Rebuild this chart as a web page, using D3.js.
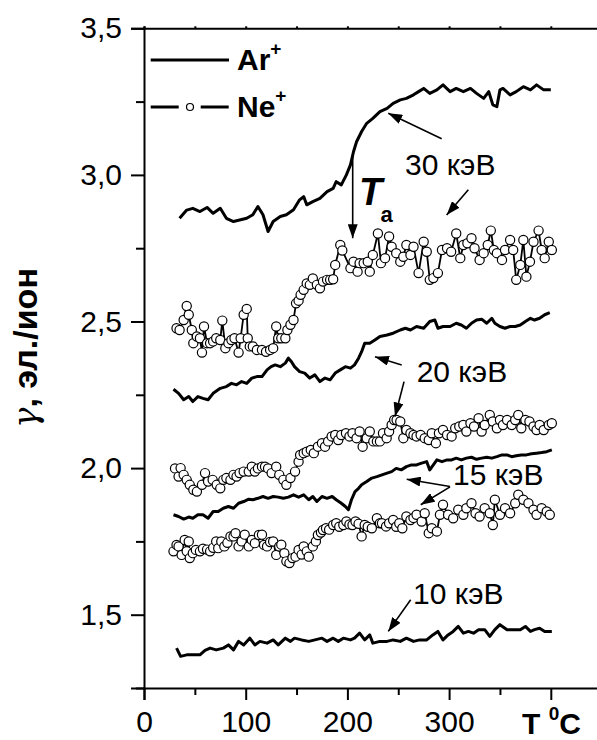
<!DOCTYPE html>
<html>
<head>
<meta charset="utf-8">
<script src="https://cdn.jsdelivr.net/npm/d3@7"></script>
<style>
  body { margin: 0; background: #fff; }
  text { font-family: "Liberation Sans", Arial, sans-serif; }
</style>
</head>
<body>
<div id="canvas"></div>
<script>
// gamma vs T, pairs of [T (°C), gamma]
const ar30 = [[35,2.852],[42,2.880],[48,2.886],[55,2.875],[62,2.889],[68,2.869],[75,2.886],[81,2.852],[88,2.841],[94,2.846],[101,2.852],[107,2.864],[112,2.892],[117,2.864],[122,2.807],[127,2.841],[134,2.858],[140,2.864],[147,2.881],[153,2.915],[157,2.926],[160,2.898],[166,2.909],[173,2.920],[180,2.943],[186,2.954],[189,2.977],[194,2.966],[199,3.000],[203,3.034],[206,3.079],[209,3.113],[214,3.148],[219,3.176],[225,3.193],[232,3.216],[239,3.227],[245,3.244],[252,3.256],[258,3.261],[265,3.273],[270,3.284],[275,3.295],[281,3.278],[288,3.290],[294,3.307],[301,3.284],[307,3.295],[314,3.284],[321,3.295],[327,3.278],[334,3.261],[339,3.284],[343,3.239],[347,3.233],[350,3.290],[353,3.295],[360,3.273],[366,3.284],[373,3.301],[380,3.290],[386,3.307],[393,3.290],[400,3.290]];

const ne30 = [[32,2.477],[35,2.471],[39,2.505],[42,2.553],[44,2.523],[47,2.471],[48.5,2.426],[52,2.449],[55,2.443],[57,2.394],[59,2.483],[62,2.426],[65,2.426],[68,2.432],[71,2.443],[75,2.437],[77,2.503],[80,2.409],[83,2.426],[86,2.437],[89,2.443],[93,2.394],[95,2.443],[98,2.523],[101,2.543],[102,2.443],[104,2.415],[107,2.415],[111,2.403],[116,2.403],[120,2.397],[124,2.403],[127,2.409],[130,2.483],[132,2.443],[135,2.443],[139,2.443],[141,2.471],[144,2.489],[147,2.505],[149.5,2.562],[152,2.571],[154,2.591],[157,2.608],[160,2.630],[163,2.625],[166,2.647],[170,2.625],[173,2.613],[176,2.636],[180,2.642],[183,2.642],[186,2.644],[188,2.693],[193,2.761],[195,2.742],[203,2.682],[206,2.704],[210,2.670],[212,2.699],[216,2.699],[220,2.704],[222,2.670],[225,2.727],[230,2.800],[233,2.699],[237,2.716],[241,2.790],[243.5,2.755],[248,2.733],[252,2.704],[255,2.721],[258,2.761],[262,2.727],[265,2.755],[270,2.665],[275,2.772],[278,2.738],[281,2.642],[284.5,2.648],[289,2.665],[293,2.744],[298,2.750],[302,2.738],[307,2.800],[311,2.716],[314,2.761],[318,2.767],[322,2.784],[325,2.750],[330,2.710],[334,2.733],[338,2.761],[341,2.810],[344,2.744],[347,2.733],[352,2.710],[355,2.744],[360,2.778],[363,2.744],[366,2.642],[370,2.693],[373,2.778],[376,2.653],[379.5,2.704],[383,2.772],[388,2.810],[391,2.744],[394,2.716],[398,2.772],[401,2.744]];

const ar20 = [[29,2.269],[34,2.255],[39,2.233],[44,2.244],[48,2.227],[53,2.244],[58,2.238],[63,2.233],[68,2.255],[75,2.272],[81,2.278],[86,2.289],[91,2.284],[96,2.295],[101,2.289],[106,2.307],[111,2.312],[116,2.312],[121,2.335],[125,2.346],[129,2.352],[134,2.346],[139,2.358],[142,2.375],[145,2.363],[148,2.346],[153,2.329],[158,2.324],[163,2.307],[168,2.318],[173,2.295],[178,2.307],[183,2.301],[188,2.324],[193,2.335],[198,2.346],[203,2.341],[207,2.352],[211,2.375],[214,2.397],[217,2.426],[222,2.426],[227,2.437],[232,2.449],[239,2.454],[245,2.460],[252,2.471],[257,2.477],[262,2.471],[268,2.483],[275,2.477],[281,2.500],[286,2.505],[289,2.477],[294,2.483],[301,2.483],[307,2.494],[312,2.488],[317,2.477],[322,2.494],[327,2.505],[332,2.508],[337,2.494],[342,2.511],[345,2.494],[350,2.483],[355,2.477],[360,2.483],[365,2.483],[370,2.488],[375,2.500],[380,2.511],[384,2.505],[389,2.511],[394,2.523],[399,2.530]];

const ne20 = [[30.5,1.999],[34,1.971],[36,2.000],[39,1.977],[42,1.960],[45,1.943],[48.5,1.926],[52,1.920],[57,1.943],[60,1.983],[63,1.954],[67.5,1.960],[71.5,1.943],[75,1.931],[78,1.960],[81,1.966],[85,1.960],[88,1.977],[91,1.971],[94,1.983],[98,1.988],[103,1.988],[106,2.005],[109,1.988],[112,1.999],[116,2.005],[119,2.005],[122,1.999],[125.5,1.983],[130,2.005],[133,1.977],[137,1.960],[140,1.943],[144,1.966],[148.5,1.988],[152,2.022],[153.5,2.045],[157,2.051],[160,2.056],[164,2.062],[167,2.051],[171,2.073],[175,2.085],[178,2.073],[181,2.091],[184.5,2.108],[188,2.113],[191,2.096],[194,2.113],[198.6,2.119],[202,2.108],[205,2.119],[209,2.102],[212,2.125],[215,2.073],[219,2.102],[222,2.125],[225.5,2.091],[229,2.091],[232,2.091],[235,2.119],[238.6,2.102],[241,2.125],[243.5,2.147],[246,2.164],[248.4,2.164],[252,2.159],[255,2.102],[258,2.130],[262,2.119],[265,2.113],[268,2.108],[272,2.113],[276,2.102],[280,2.096],[283,2.119],[287,2.085],[290,2.119],[294,2.130],[298,2.113],[302.5,2.108],[306,2.136],[310,2.142],[314,2.147],[317,2.125],[321,2.153],[324.5,2.142],[329,2.170],[332,2.125],[335,2.147],[340,2.181],[343,2.159],[347,2.136],[350,2.164],[353,2.147],[357,2.164],[361.5,2.147],[365,2.164],[368,2.181],[371,2.136],[375,2.164],[379,2.159],[383,2.142],[386,2.130],[389,2.147],[393,2.130],[398,2.147],[401,2.153]];

const ar15 = [[29,1.841],[34,1.835],[39,1.826],[44,1.833],[48,1.829],[53,1.841],[58,1.841],[63,1.829],[68,1.852],[73,1.852],[78,1.863],[83,1.869],[88,1.863],[93,1.880],[98,1.886],[103,1.894],[107,1.892],[112,1.897],[117,1.903],[122,1.897],[127,1.903],[132,1.901],[137,1.897],[142,1.901],[147,1.909],[152,1.901],[157,1.909],[162,1.892],[166,1.903],[170,1.886],[175,1.903],[180,1.897],[185,1.903],[189,1.892],[194,1.880],[198,1.869],[201,1.858],[204,1.892],[207.5,1.920],[211,1.931],[214,1.943],[219,1.954],[224,1.966],[229,1.971],[234,1.977],[239,1.983],[243.5,1.988],[248,1.999],[253,1.994],[258,2.005],[263,2.011],[268,2.011],[273,2.017],[278,2.022],[281,1.994],[284.5,2.011],[288,2.028],[293,2.022],[298,2.028],[302.5,2.028],[307,2.034],[312,2.028],[317,2.034],[322,2.037],[327,2.030],[332,2.034],[337,2.037],[342,2.034],[347,2.039],[352,2.045],[357,2.045],[361.5,2.039],[366,2.042],[371,2.045],[376,2.045],[381,2.049],[386,2.051],[391,2.053],[396,2.056],[401,2.062]];

const ne15 = [[29,1.716],[32,1.738],[34,1.733],[37,1.704],[40,1.755],[42,1.716],[44,1.750],[45,1.693],[48,1.710],[51,1.721],[55,1.716],[58,1.725],[62,1.722],[65,1.716],[68,1.728],[71,1.750],[73,1.727],[76,1.750],[79,1.733],[82,1.745],[85,1.767],[88,1.767],[90,1.778],[93,1.733],[96,1.750],[99,1.773],[103,1.733],[106,1.755],[109,1.744],[113,1.772],[116,1.773],[118,1.738],[121,1.733],[124,1.748],[127,1.750],[130,1.704],[133,1.733],[135,1.739],[138,1.710],[140,1.682],[143,1.676],[146,1.693],[149,1.698],[152,1.721],[155,1.705],[157,1.733],[160,1.716],[162,1.698],[166,1.733],[169,1.750],[171,1.772],[174,1.780],[176,1.789],[179,1.795],[182,1.790],[186,1.806],[189,1.812],[192,1.800],[196,1.806],[199,1.818],[202,1.808],[205,1.806],[208,1.818],[211,1.810],[214,1.767],[217,1.806],[220,1.800],[224,1.795],[229,1.829],[232,1.812],[234,1.812],[238,1.801],[241,1.812],[245,1.823],[248,1.800],[251,1.812],[254,1.795],[258,1.835],[262,1.823],[265,1.830],[268,1.841],[273,1.818],[276,1.846],[280,1.778],[283,1.795],[288,1.784],[291,1.841],[294,1.875],[299,1.841],[304,1.829],[309,1.858],[314,1.841],[317,1.863],[322,1.880],[326,1.846],[330,1.835],[335,1.863],[340,1.846],[343,1.806],[345,1.892],[350,1.841],[355,1.863],[360,1.846],[365,1.880],[368,1.909],[373,1.892],[378,1.880],[383,1.858],[386,1.841],[391,1.863],[396,1.852],[399,1.841]];

const ar10 = [[32,1.386],[36,1.358],[42,1.363],[48,1.363],[55,1.363],[60,1.378],[65,1.386],[71,1.380],[78,1.386],[83,1.397],[88,1.380],[93,1.409],[98,1.397],[104,1.420],[109,1.397],[114,1.409],[121,1.403],[127,1.414],[132,1.397],[139,1.420],[144,1.409],[148,1.420],[155,1.414],[162,1.409],[168,1.414],[175,1.420],[180,1.409],[186,1.420],[191,1.409],[196,1.420],[203,1.414],[207,1.420],[212,1.437],[217,1.414],[222,1.431],[225,1.403],[232,1.409],[239,1.409],[245,1.414],[252,1.409],[258,1.420],[265,1.409],[271,1.414],[278,1.414],[284,1.431],[289,1.443],[294,1.414],[299,1.431],[304,1.443],[309,1.460],[314,1.437],[319,1.443],[324,1.437],[329,1.449],[335,1.449],[340,1.426],[345,1.449],[350,1.466],[357,1.449],[363,1.449],[370,1.449],[375,1.460],[380,1.443],[384,1.449],[389,1.454],[394,1.443],[401,1.443]];

const xMajor = [0, 100, 200, 300, 400];
const xLabelled = [0, 100, 200, 300];
const xMinor = [50, 150, 250, 350];
const yMajor = [1.5, 2.0, 2.5, 3.0, 3.5];
const yMinor = [1.25, 1.75, 2.25, 2.75, 3.25];

// annotations: [text, T, gamma]  and arrows [T1, g1, T2, g2]
const energyLabels = [["30 кэВ", 256.6, 3.0], ["20 кэВ", 268.1, 2.294], ["15 кэВ", 303.8, 1.943], ["10 кэВ", 264.5, 1.535]];
const arrows = [
  [292.7, 3.123, 240.2, 3.210],
  [318.9, 2.949, 297.6, 2.863],
  [205.2, 3.068, 205.2, 2.784],
  [253.4, 2.352, 227.1, 2.380],
  [255.7, 2.295, 246.8, 2.176],
  [300.9, 1.937, 258.3, 1.962],
  [300.9, 1.936, 272.1, 1.875],
  [262.2, 1.551, 240.2, 1.443]
];

const W = 597, H = 740;
const margin = { top: 28.3, left: 144, bottom: 52 };

const svg = d3.select("#canvas").append("svg")
  .attr("width", W)
  .attr("height", H);

const x = d3.scaleLinear().domain([0, 450]).range([margin.left, margin.left + 450 * 1.017]);
const y = d3.scaleLinear().domain([1.25, 3.5]).range([H - margin.bottom, margin.top]);

const defs = svg.append("defs");
defs.append("marker")
  .attr("id", "head")
  .attr("viewBox", "0 0 14 10")
  .attr("refX", 14).attr("refY", 5)
  .attr("markerWidth", 14).attr("markerHeight", 10)
  .attr("markerUnits", "userSpaceOnUse")
  .attr("orient", "auto")
  .append("path").attr("d", "M0,0 L14,5 L0,10 Z").attr("fill", "#000");

const fmt = d => d.toFixed(1).replace(".", ",");

function styleAxis(g) {
  g.select(".domain").attr("stroke-width", 2);
  g.selectAll(".tick line").attr("stroke-width", 2);
  g.selectAll("text").attr("font-size", 30).attr("fill", "#000")
    .attr("font-family", "Liberation Sans, Arial, sans-serif");
}

// x axes
const bottomY = y(1.25);
svg.append("g").attr("transform", `translate(0,${bottomY})`)
  .call(d3.axisBottom(x).tickValues(xMajor).tickSize(12).tickPadding(11)
    .tickFormat(d => xLabelled.includes(d) ? d : ""))
  .call(styleAxis);
svg.append("g").attr("transform", `translate(0,${bottomY})`)
  .call(d3.axisBottom(x).tickValues(xMinor).tickSize(7).tickFormat(""))
  .call(g => g.select(".domain").remove())
  .call(styleAxis);
svg.append("g").attr("transform", `translate(0,${y(3.5)})`)
  .call(d3.axisTop(x).tickValues(xMajor.concat(xMinor)).tickSize(2).tickFormat(""))
  .call(styleAxis);

// y axes
svg.append("g").attr("transform", `translate(${x(0)},0)`)
  .call(d3.axisLeft(y).tickValues(yMajor).tickSize(13).tickPadding(9).tickFormat(fmt))
  .call(styleAxis);
svg.append("g").attr("transform", `translate(${x(0)},0)`)
  .call(d3.axisLeft(y).tickValues(yMinor).tickSize(8).tickFormat(""))
  .call(g => g.select(".domain").remove())
  .call(styleAxis);

// axis titles
svg.append("text")
  .attr("transform", `translate(37,348) rotate(-90)`)
  .attr("text-anchor", "middle")
  .attr("font-size", 34).attr("font-weight", "bold")
  .call(t => {
    t.append("tspan").attr("font-weight", "normal").attr("font-family", "DejaVu Serif, serif")
      .attr("font-style", "italic").text("γ");
    t.append("tspan").text(", эл./ион");
  });

const xt = svg.append("text").attr("x", 522).attr("y", 734)
  .attr("font-size", 30).attr("font-weight", "bold");
xt.append("tspan").text("T ");
xt.append("tspan").attr("font-size", 19).attr("dy", -14).text("0");
xt.append("tspan").attr("dy", 14).text("C");

// data
const line = d3.line().x(d => x(d[0])).y(d => y(d[1]));

[ar30, ar20, ar15, ar10].forEach(s => {
  svg.append("path").datum(s)
    .attr("d", line)
    .attr("fill", "none")
    .attr("stroke", "#000")
    .attr("stroke-width", 3)
    .attr("stroke-linejoin", "round");
});

[ne30, ne20, ne15].forEach(s => {
  svg.append("path").datum(s)
    .attr("d", line)
    .attr("fill", "none")
    .attr("stroke", "#000")
    .attr("stroke-width", 1.8);
  svg.append("g").selectAll("circle")
    .data(s)
    .enter().append("circle")
    .attr("cx", d => x(d[0]))
    .attr("cy", d => y(d[1]))
    .attr("r", 4.6)
    .attr("fill", "#fff")
    .attr("stroke", "#000")
    .attr("stroke-width", 1.2);
});

// annotations
svg.append("g").selectAll("line")
  .data(arrows)
  .enter().append("line")
  .attr("x1", d => x(d[0])).attr("y1", d => y(d[1]))
  .attr("x2", d => x(d[2])).attr("y2", d => y(d[3]))
  .attr("stroke", "#000")
  .attr("stroke-width", 1.6)
  .attr("marker-end", "url(#head)");

svg.append("g").selectAll("text")
  .data(energyLabels)
  .enter().append("text")
  .attr("x", d => x(d[1])).attr("y", d => y(d[2]))
  .attr("font-size", 30)
  .text(d => d[0]);

svg.append("text").attr("x", x(211.5)).attr("y", y(2.898))
  .attr("font-size", 38).attr("font-weight", "bold").attr("font-style", "italic")
  .text("T");
svg.append("text").attr("x", x(232.5)).attr("y", y(2.838))
  .attr("font-size", 22).attr("font-weight", "bold")
  .text("a");

// legend
const legend = svg.append("g");
legend.append("line").attr("x1", 150.7).attr("x2", 229).attr("y1", 60).attr("y2", 60)
  .attr("stroke", "#000").attr("stroke-width", 3);
legend.append("line").attr("x1", 150.7).attr("x2", 229).attr("y1", 107).attr("y2", 107)
  .attr("stroke", "#000").attr("stroke-width", 3)
  .attr("stroke-dasharray", "28 22");
legend.append("circle").attr("cx", 190).attr("cy", 107).attr("r", 3.5)
  .attr("fill", "#fff").attr("stroke", "#000").attr("stroke-width", 1.2);

[["Ar", 70], ["Ne", 117]].forEach(([lab, by]) => {
  const t = legend.append("text").attr("x", 237).attr("y", by)
    .attr("font-size", 30).attr("font-weight", "bold");
  t.append("tspan").text(lab);
  t.append("tspan").attr("font-size", 19).attr("dy", -15).text("+");
});
</script>
</body>
</html>
